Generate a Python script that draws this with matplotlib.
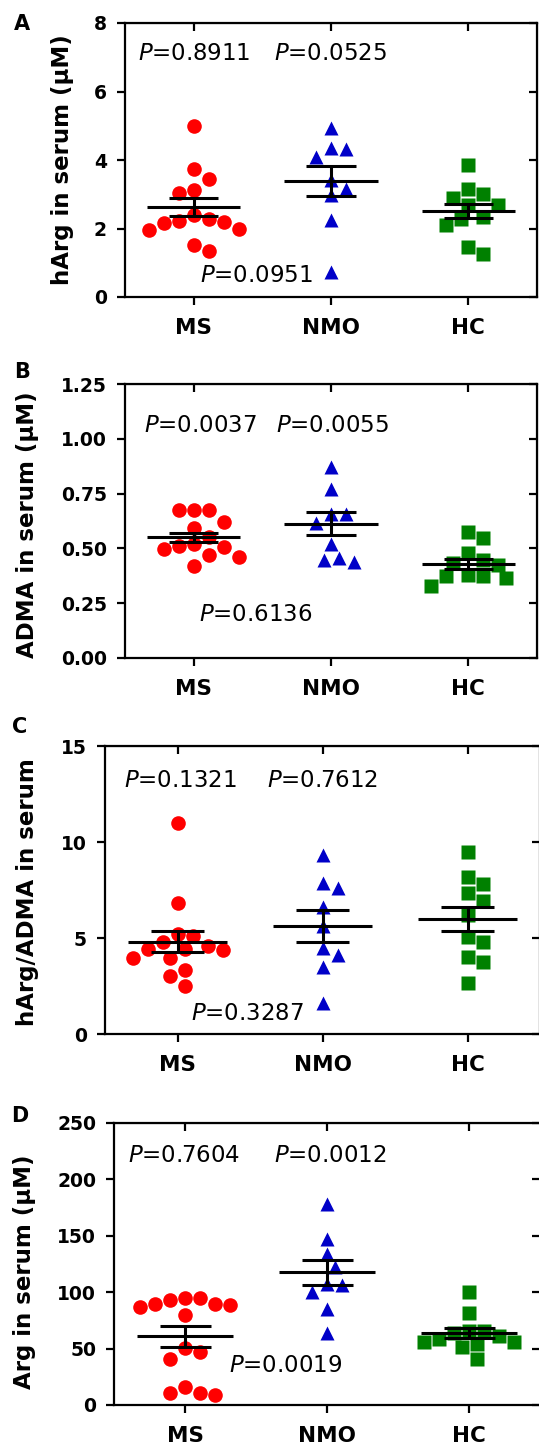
import numpy as np
import matplotlib
matplotlib.use("Agg")
import matplotlib.pyplot as plt

plt.rcParams['font.family'] = ['DejaVu Sans']
plt.rcParams['mathtext.fontset'] = 'dejavusans'

# ------------------------------------
# Data
# ------------------------------------
groups = ["MS", "NMO", "HC"]

# A: hArg (uM)
a_ms = [5.00, 3.73, 3.45, 3.04, 3.13, 2.29, 2.19, 2.00, 1.95, 2.16, 2.22, 2.38, 1.34, 1.53]
a_nmo = [4.92, 4.33, 4.36, 4.09, 3.41, 3.16, 2.97, 2.24, 0.73]
a_hc = [3.86, 3.16, 3.02, 2.90, 2.68, 2.68, 2.29, 2.34, 2.09, 1.27, 1.46]
a_mean = [2.63, 3.39, 2.51]
a_sem = [0.26, 0.445, 0.215]
a_p = ["0.8911", "0.0525", "0.0951"]

# B: ADMA (uM)
b_ms = [0.676, 0.673, 0.676, 0.620, 0.595, 0.550, 0.509, 0.519, 0.497, 0.506, 0.468, 0.459, 0.421]
b_nmo = [0.873, 0.770, 0.658, 0.658, 0.618, 0.519, 0.456, 0.440, 0.448]
b_hc = [0.577, 0.547, 0.478, 0.448, 0.433, 0.425, 0.380, 0.372, 0.365, 0.372, 0.327]
b_mean = [0.550, 0.612, 0.430]
b_sem = [0.022, 0.052, 0.0235]
b_p = ["0.0037", "0.0055", "0.6136"]

# C: hArg/ADMA ratio
c_ms = [10.97, 6.84, 5.10, 5.19, 4.58, 4.81, 4.41, 3.94, 3.94, 4.38, 4.41, 3.33, 3.02, 2.52]
c_nmo = [9.32, 7.85, 7.59, 6.63, 5.63, 4.11, 4.46, 3.51, 1.60]
c_hc = [9.50, 8.16, 7.81, 7.33, 6.94, 6.20, 4.81, 5.03, 4.03, 3.77, 2.67]
c_mean = [4.81, 5.64, 6.01]
c_sem = [0.555, 0.825, 0.625]
c_p = ["0.1321", "0.7612", "0.3287"]

# D: Arg (uM)
d_ms = [89.4, 87.1, 95.3, 88.5, 94.5, 89.4, 93.0, 79.4, 47.2, 50.2, 40.4, 10.3, 8.9, 10.3, 15.6]
d_nmo = [178.6, 147.6, 133.7, 121.9, 107.7, 100.4, 106.3, 84.7, 64.1]
d_hc = [100.4, 81.8, 65.8, 65.8, 63.5, 61.1, 58.1, 56.1, 53.7, 56.1, 51.7, 40.4]
d_mean = [61.1, 117.5, 63.5]
d_sem = [9.3, 11.2, 4.45]
d_p = ["0.7604", "0.0012", "0.0019"]

# ------------------------------------
# Layout (figure pixels) and styling
# ------------------------------------
W, H = 539, 1446
colors = ["#ff0000", "#0000c8", "#008000"]
markers = ["o", "^", "s"]
msizes = [10.5, 10.5, 10]

panels = [
    dict(letter="A", data=[a_ms, a_nmo, a_hc], mean=a_mean, sem=a_sem, p=a_p,
         rect=(125, 297, 412, 274), ylim=(0, 8), yticks=[0, 2, 4, 6, 8], fmt="{:g}",
         ylabel="hArg in serum (\u03bcM)", ylab=(63, 160), lett=(22, 24),
         ppos=[(0.0, 7.10), (1.0, 7.10), (0.46, 0.63)]),
    dict(letter="B", data=[b_ms, b_nmo, b_hc], mean=b_mean, sem=b_sem, p=b_p,
         rect=(125, 658, 412, 274), ylim=(0, 1.25), yticks=[0, 0.25, 0.5, 0.75, 1.0, 1.25],
         fmt="{:.2f}", ylabel="ADMA in serum (\u03bcM)", ylab=(28, 525), lett=(22, 372),
         ppos=[(0.05, 1.06), (1.01, 1.06), (0.45, 0.197)]),
    dict(letter="C", data=[c_ms, c_nmo, c_hc], mean=c_mean, sem=c_sem, p=c_p,
         rect=(105, 1034, 435, 288), ylim=(0, 15), yticks=[0, 5, 10, 15], fmt="{:g}",
         ylabel="hArg/ADMA in serum", ylab=(28, 892), lett=(20, 727),
         ppos=[(0.02, 13.2), (1.0, 13.2), (0.48, 1.08)]),
    dict(letter="D", data=[d_ms, d_nmo, d_hc], mean=d_mean, sem=d_sem, p=d_p,
         rect=(114.3, 1405, 425.7, 282), ylim=(0, 250), yticks=[0, 50, 100, 150, 200, 250],
         fmt="{:g}", ylabel="Arg in serum (\u03bcM)", ylab=(25, 1272), lett=(20, 1116),
         ppos=[(-0.01, 221), (1.02, 221), (0.71, 34.8)]),
]


def swarm_offsets(ax, xc, values, step_px=7.5, min_px=15.0):
    # simple beeswarm: place points one by one, nudging sideways until clear
    trans = ax.transData
    ypix = trans.transform(np.column_stack([np.full(len(values), xc), values]))[:, 1]
    ux = trans.transform((1, 0))[0] - trans.transform((0, 0))[0]
    cands = [0]
    for j in range(1, 30):
        cands += [j, -j]
    placed = []
    offs = np.zeros(len(values))
    for i in np.argsort(-np.asarray(values)):
        for c in cands:
            xo = c * step_px
            if all((xo - px) ** 2 + (ypix[i] - py) ** 2 >= min_px ** 2 for px, py in placed):
                break
        placed.append((xo, ypix[i]))
        offs[i] = xo / ux
    return offs


fig = plt.figure(figsize=(W / 100, H / 100), dpi=100)
lw = 1.6

for pn in panels:
    l, b, w, h = pn["rect"]
    ax = fig.add_axes([l / W, 1 - b / H, w / W, h / H])
    ax.set_xlim(-0.5, 2.5)
    ax.set_ylim(*pn["ylim"])

    # points
    for k, vals in enumerate(pn["data"]):
        dx = swarm_offsets(ax, k, vals)
        ax.plot(k + dx, vals, linestyle="none", marker=markers[k], ms=msizes[k],
                color=colors[k], mec="none", zorder=2, clip_on=False)

    # mean +/- SEM
    for k in range(3):
        m, s = pn["mean"][k], pn["sem"][k]
        ax.hlines(m, k - 0.34, k + 0.34, color="black", lw=2.2, zorder=3)
        ax.hlines([m - s, m + s], k - 0.18, k + 0.18, color="black", lw=2.2, zorder=3)
        ax.vlines(k, m - s, m + s, color="black", lw=2.2, zorder=3)

    # p values
    for (px, py), txt in zip(pn["ppos"], pn["p"]):
        ax.text(px, py, "$\\mathit{P}$=" + txt, ha="center", va="center", fontsize=16.5)

    # axes styling
    for sp in ax.spines.values():
        sp.set_linewidth(lw)
    ax.set_xticks(range(3))
    ax.set_xticklabels(groups, fontsize=15.5, fontweight="bold")
    ax.set_yticks(pn["yticks"])
    ax.set_yticklabels([pn["fmt"].format(t) for t in pn["yticks"]], fontsize=13.5,
                       fontweight="bold")
    ax.tick_params(axis="x", direction="out", length=6, width=lw, pad=9)
    ax.tick_params(axis="y", direction="out", length=6, width=lw, pad=7)

    top = ax.secondary_xaxis("top")
    top.set_xticks(range(3))
    top.tick_params(direction="in", length=6, width=lw, labeltop=False)
    right = ax.secondary_yaxis("right")
    right.set_yticks(pn["yticks"])
    right.tick_params(direction="in", length=6, width=lw, labelright=False)

    ax.set_ylabel(pn["ylabel"], fontsize=16.5, fontweight="bold", va="center")
    ax.yaxis.set_label_coords((pn["ylab"][0] - l) / w, (b - pn["ylab"][1]) / h)

    fig.text(pn["lett"][0] / W, 1 - pn["lett"][1] / H, pn["letter"], fontsize=15,
             fontweight="bold", ha="center", va="center")

plt.savefig("out.png", dpi=100)
